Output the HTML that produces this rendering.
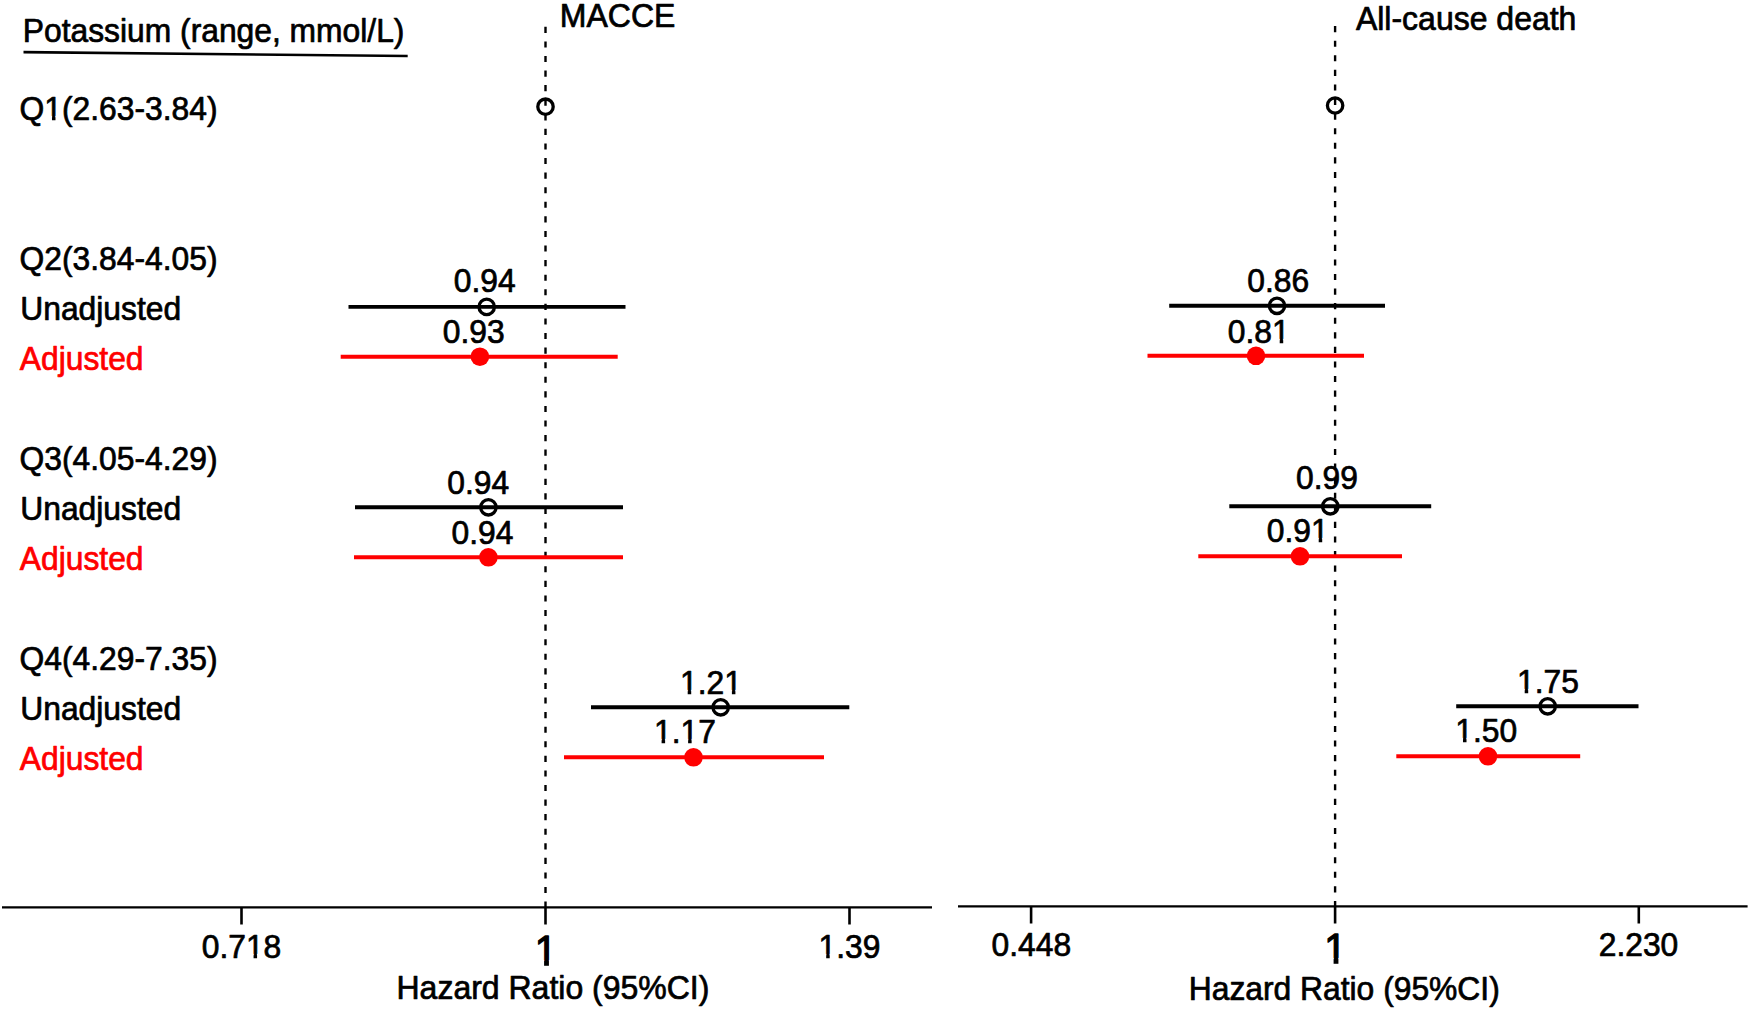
<!DOCTYPE html>
<html lang="en"><head><meta charset="utf-8"><title>Forest plot</title>
<style>html,body{margin:0;padding:0;background:#fff;}body{width:1750px;height:1009px;overflow:hidden;}svg{display:block;}text{font-family:"Liberation Sans", Arial, Helvetica, sans-serif;font-size:31.8px;fill:#000;stroke:#000;stroke-width:0.7px;stroke-linejoin:round;font-kerning:none;}.r{fill:#f00;stroke:#f00;}.w{fill:#fff;stroke:none;}</style></head><body>
<svg width="1750" height="1009" viewBox="0 0 1750 1009">
<rect width="1750" height="1009" fill="#fff"/>
<g transform="translate(22.80 42.00) scale(1 1.050)">
<text x="0" y="0">Potassium (range, mmol/L)</text>
</g>
<line x1="23.5" y1="52.1" x2="407.7" y2="56" stroke="#000" stroke-width="2.6"/>
<g transform="translate(19.60 120.00) scale(1 1.050)">
<text x="0" y="0">Q1(2.63-3.84)</text>
<rect class="w" x="25.31" y="-3.93" width="7.07" height="6.48"/>
<rect class="w" x="35.89" y="-3.93" width="6.83" height="6.48"/>
</g>
<g transform="translate(19.60 270.00) scale(1 1.050)">
<text x="0" y="0">Q2(3.84-4.05)</text>
</g>
<g transform="translate(20.30 320.00) scale(1 1.050)">
<text x="0" y="0">Unadjusted</text>
</g>
<g transform="translate(19.80 370.00) scale(1 1.050)">
<text x="0" y="0" class="r">Adjusted</text>
</g>
<g transform="translate(19.60 470.00) scale(1 1.050)">
<text x="0" y="0">Q3(4.05-4.29)</text>
</g>
<g transform="translate(20.30 520.00) scale(1 1.050)">
<text x="0" y="0">Unadjusted</text>
</g>
<g transform="translate(19.80 570.00) scale(1 1.050)">
<text x="0" y="0" class="r">Adjusted</text>
</g>
<g transform="translate(19.60 670.00) scale(1 1.050)">
<text x="0" y="0">Q4(4.29-7.35)</text>
</g>
<g transform="translate(20.30 720.00) scale(1 1.050)">
<text x="0" y="0">Unadjusted</text>
</g>
<g transform="translate(19.80 770.00) scale(1 1.050)">
<text x="0" y="0" class="r">Adjusted</text>
</g>
<g transform="translate(559.80 27.00) scale(1 1.050)">
<text x="0" y="0" style="font-size:32.0px;">MACCE</text>
</g>
<g transform="translate(1355.90 30.00) scale(1 1.050)">
<text x="0" y="0" style="font-size:32.0px;">All-cause death</text>
</g>
<line x1="2" y1="907.4" x2="932" y2="907.4" stroke="#000" stroke-width="2.4"/>
<line x1="958" y1="906.4" x2="1747.6" y2="906.4" stroke="#000" stroke-width="2.4"/>
<line x1="241.5" y1="907.4" x2="241.5" y2="924.5" stroke="#000" stroke-width="2.6"/>
<line x1="545.5" y1="907.4" x2="545.5" y2="924.5" stroke="#000" stroke-width="2.6"/>
<line x1="849.5" y1="907.4" x2="849.5" y2="924.5" stroke="#000" stroke-width="2.6"/>
<line x1="1031.1" y1="906.4" x2="1031.1" y2="923.5" stroke="#000" stroke-width="2.6"/>
<line x1="1335.1" y1="906.4" x2="1335.1" y2="923.5" stroke="#000" stroke-width="2.6"/>
<line x1="1638.8" y1="906.4" x2="1638.8" y2="923.5" stroke="#000" stroke-width="2.6"/>
<g transform="translate(201.71 958.00) scale(1 1.050)">
<text x="0" y="0">0.718</text>
<rect class="w" x="44.78" y="-3.93" width="7.07" height="6.48"/>
<rect class="w" x="55.36" y="-3.93" width="6.83" height="6.48"/>
</g>
<g transform="translate(818.55 958.00) scale(1 1.050)">
<text x="0" y="0">1.39</text>
<rect class="w" x="0.57" y="-3.93" width="7.07" height="6.48"/>
<rect class="w" x="11.16" y="-3.93" width="6.83" height="6.48"/>
</g>
<g transform="translate(991.61 956.00) scale(1 1.050)">
<text x="0" y="0">0.448</text>
</g>
<g transform="translate(1598.71 956.00) scale(1 1.050)">
<text x="0" y="0">2.230</text>
</g>
<g transform="translate(534.68 965.00) scale(1 1.050)">
<text x="0" y="0" style="font-size:40.0px;stroke-width:1.3px;">1</text>
<rect class="w" x="0.90" y="-4.84" width="8.51" height="7.69"/>
<rect class="w" x="14.24" y="-4.84" width="8.20" height="7.69"/>
</g>
<g transform="translate(1324.18 963.00) scale(1 1.050)">
<text x="0" y="0" style="font-size:40.0px;stroke-width:1.3px;">1</text>
<rect class="w" x="0.90" y="-4.84" width="8.51" height="7.69"/>
<rect class="w" x="14.24" y="-4.84" width="8.20" height="7.69"/>
</g>
<g transform="translate(396.50 999.00) scale(1 1.050)">
<text x="0" y="0" style="font-size:32.0px;">Hazard Ratio (95%CI)</text>
</g>
<g transform="translate(1188.78 1000.00) scale(1 1.050)">
<text x="0" y="0">Hazard Ratio (95%CI)</text>
</g>
<line x1="545.5" y1="26.8" x2="545.5" y2="907.4" stroke="#000" stroke-width="2.4" stroke-dasharray="6.1 8.48"/>
<line x1="1335.1" y1="26.1" x2="1335.1" y2="906.4" stroke="#000" stroke-width="2.4" stroke-dasharray="6.1 8.48"/>
<line x1="348.5" y1="306.9" x2="625.5" y2="306.9" stroke="#000" stroke-width="3.9"/>
<circle cx="486.7" cy="306.9" r="7.7" fill="none" stroke="#000" stroke-width="3.3"/>
<g transform="translate(453.85 292.00) scale(1 1.050)">
<text x="0" y="0">0.94</text>
</g>
<line x1="340.7" y1="356.7" x2="617.7" y2="356.7" stroke="#ff0000" stroke-width="3.9"/>
<circle cx="479.9" cy="356.7" r="9.3" fill="#ff0000"/>
<g transform="translate(442.85 343.00) scale(1 1.050)">
<text x="0" y="0">0.93</text>
</g>
<line x1="355.0" y1="507.3" x2="623.0" y2="507.3" stroke="#000" stroke-width="3.9"/>
<circle cx="488.4" cy="507.3" r="7.7" fill="none" stroke="#000" stroke-width="3.3"/>
<g transform="translate(447.35 494.00) scale(1 1.050)">
<text x="0" y="0">0.94</text>
</g>
<line x1="354.0" y1="557.3" x2="623.0" y2="557.3" stroke="#ff0000" stroke-width="3.9"/>
<circle cx="488.4" cy="557.3" r="9.3" fill="#ff0000"/>
<g transform="translate(451.55 544.00) scale(1 1.050)">
<text x="0" y="0">0.94</text>
</g>
<line x1="591.0" y1="707.3" x2="849.3" y2="707.3" stroke="#000" stroke-width="3.9"/>
<circle cx="720.7" cy="707.3" r="7.7" fill="none" stroke="#000" stroke-width="3.3"/>
<g transform="translate(680.05 694.00) scale(1 1.050)">
<text x="0" y="0">1.21</text>
<rect class="w" x="0.57" y="-3.93" width="7.07" height="6.48"/>
<rect class="w" x="11.16" y="-3.93" width="6.83" height="6.48"/>
<rect class="w" x="44.78" y="-3.93" width="7.07" height="6.48"/>
<rect class="w" x="55.36" y="-3.93" width="6.83" height="6.48"/>
</g>
<line x1="564.0" y1="757.3" x2="824.0" y2="757.3" stroke="#ff0000" stroke-width="3.9"/>
<circle cx="693.5" cy="757.3" r="9.3" fill="#ff0000"/>
<g transform="translate(653.95 743.00) scale(1 1.050)">
<text x="0" y="0">1.17</text>
<rect class="w" x="0.57" y="-3.93" width="7.07" height="6.48"/>
<rect class="w" x="11.16" y="-3.93" width="6.83" height="6.48"/>
<rect class="w" x="27.09" y="-3.93" width="7.07" height="6.48"/>
<rect class="w" x="37.68" y="-3.93" width="6.83" height="6.48"/>
</g>
<line x1="1169.2" y1="305.8" x2="1385.0" y2="305.8" stroke="#000" stroke-width="3.9"/>
<circle cx="1277.0" cy="305.8" r="7.7" fill="none" stroke="#000" stroke-width="3.3"/>
<g transform="translate(1247.35 292.00) scale(1 1.050)">
<text x="0" y="0">0.86</text>
</g>
<line x1="1147.5" y1="355.8" x2="1364.0" y2="355.8" stroke="#ff0000" stroke-width="3.9"/>
<circle cx="1256.0" cy="355.8" r="9.3" fill="#ff0000"/>
<g transform="translate(1227.85 343.00) scale(1 1.050)">
<text x="0" y="0">0.81</text>
<rect class="w" x="44.78" y="-3.93" width="7.07" height="6.48"/>
<rect class="w" x="55.36" y="-3.93" width="6.83" height="6.48"/>
</g>
<line x1="1229.3" y1="506.3" x2="1431.2" y2="506.3" stroke="#000" stroke-width="3.9"/>
<circle cx="1330.3" cy="506.3" r="7.7" fill="none" stroke="#000" stroke-width="3.3"/>
<g transform="translate(1296.05 489.00) scale(1 1.050)">
<text x="0" y="0">0.99</text>
</g>
<line x1="1198.3" y1="556.3" x2="1402.0" y2="556.3" stroke="#ff0000" stroke-width="3.9"/>
<circle cx="1300.0" cy="556.3" r="9.3" fill="#ff0000"/>
<g transform="translate(1266.85 542.00) scale(1 1.050)">
<text x="0" y="0">0.91</text>
<rect class="w" x="44.78" y="-3.93" width="7.07" height="6.48"/>
<rect class="w" x="55.36" y="-3.93" width="6.83" height="6.48"/>
</g>
<line x1="1456.2" y1="706.3" x2="1638.5" y2="706.3" stroke="#000" stroke-width="3.9"/>
<circle cx="1547.7" cy="706.3" r="7.7" fill="none" stroke="#000" stroke-width="3.3"/>
<g transform="translate(1517.05 693.00) scale(1 1.050)">
<text x="0" y="0">1.75</text>
<rect class="w" x="0.57" y="-3.93" width="7.07" height="6.48"/>
<rect class="w" x="11.16" y="-3.93" width="6.83" height="6.48"/>
</g>
<line x1="1396.3" y1="756.3" x2="1580.2" y2="756.3" stroke="#ff0000" stroke-width="3.9"/>
<circle cx="1488.0" cy="756.3" r="9.3" fill="#ff0000"/>
<g transform="translate(1455.35 742.00) scale(1 1.050)">
<text x="0" y="0">1.50</text>
<rect class="w" x="0.57" y="-3.93" width="7.07" height="6.48"/>
<rect class="w" x="11.16" y="-3.93" width="6.83" height="6.48"/>
</g>
<circle cx="545.5" cy="106.7" r="7.7" fill="none" stroke="#000" stroke-width="3.3"/>
<circle cx="1335.1" cy="105.5" r="7.7" fill="none" stroke="#000" stroke-width="3.3"/>
</svg></body></html>
